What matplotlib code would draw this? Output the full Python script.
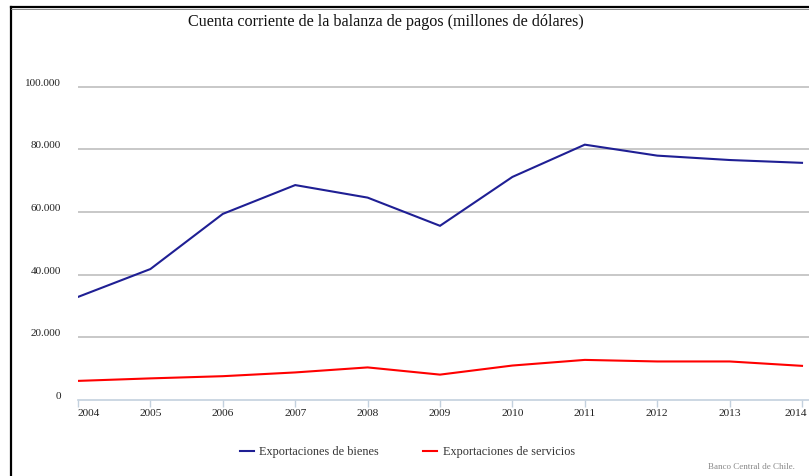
import matplotlib
matplotlib.use("Agg")
import matplotlib.pyplot as plt
import matplotlib.transforms as mtrans
from matplotlib.lines import Line2D

years = [2004, 2005, 2006, 2007, 2008, 2009, 2010, 2011, 2012, 2013, 2014]
bienes = [32900, 41800, 59400, 68600, 64600, 55600, 71200, 81500, 78000, 76600, 75700]
servicios = [6100, 6900, 7600, 8800, 10400, 8100, 11000, 12800, 12300, 12300, 10900]
yticks = [0, 20000, 40000, 60000, 80000, 100000]
ytick_labels = ["0", "20.000", "40.000", "60.000", "80.000", "100.000"]
title = "Cuenta corriente de la balanza de pagos (millones de dólares)"
series_names = ["Exportaciones de bienes", "Exportaciones de servicios"]
credit = "Banco Central de Chile."

W, H = 809, 477
fig = plt.figure(figsize=(W / 100, H / 100), dpi=100)
serif = ["Liberation Serif", "DejaVu Serif"]

# axes geometry (pixels)
x0px, x1px = 78, 802
base_px, top100_px = 401, 87.7
ppy = (x1px - x0px) / 10.0
ppv = (base_px - top100_px) / 100000.0
xmax = 2014 + (W - x1px) / ppy
ymax = 105000
top_px = base_px - ymax * ppv
ax = fig.add_axes([x0px / W, (H - base_px) / H, (W - x0px) / W, (base_px - top_px) / H])
ax.set_xlim(2004, xmax)
ax.set_ylim(0, ymax)

ax.plot(years, bienes, color="#1f1f94", lw=1.5, solid_joinstyle="miter")
ax.plot(years, servicios, color="#ff0000", lw=1.5)

for s in ["top", "right", "left"]:
    ax.spines[s].set_visible(False)
ax.spines["bottom"].set_color("#c3d1de")
ax.spines["bottom"].set_linewidth(1.2)
ax.set_axisbelow(True)
for v in yticks[1:]:
    ax.axhline(v, color="#c4c4c4", lw=1.3, zorder=0)

ax.set_yticks(yticks)
ax.set_yticklabels(ytick_labels, fontfamily=serif, fontsize=8, color="#222222")
ax.tick_params(axis="y", length=0, pad=12.2)
for lab in ax.get_yticklabels():
    lab.set_va("bottom")

ax.set_xticks(years)
ax.set_xticklabels([str(y) for y in years], fontfamily=serif, fontsize=8.2, color="#222222")
ax.tick_params(axis="x", length=5, width=1, color="#c3d1de", pad=1)
xl = ax.get_xticklabels()
xl[0].set_ha("left")
xl[-1].set_ha("right")
xl[-1].set_transform(xl[-1].get_transform() + mtrans.ScaledTranslation(5 / 100, 0, fig.dpi_scale_trans))

fig.text(386 / W, 1 - 22 / H, title, ha="center", va="center", fontfamily=serif, fontsize=11.6, color="#111111")

# legend
ly = 1 - 452 / H
fig.add_artist(Line2D([240 / W, 254 / W], [ly, ly], color="#1f1f94", lw=1.5))
fig.text(259 / W, ly, series_names[0], ha="left", va="center", fontfamily=serif, fontsize=8.8, color="#333333")
fig.add_artist(Line2D([423 / W, 437 / W], [ly, ly], color="#ff0000", lw=1.5))
fig.text(443 / W, ly, series_names[1], ha="left", va="center", fontfamily=serif, fontsize=8.8, color="#333333")

fig.text(795 / W, 1 - 467 / H, credit, ha="right", va="center", fontfamily=serif, fontsize=6.5, color="#888888")

# frame lines (left and top)
fig.add_artist(Line2D([11 / W, 11 / W], [0, 1 - 8 / H], color="#000000", lw=1.6))
fig.add_artist(Line2D([11 / W, 1], [1 - 8 / H, 1 - 8 / H], color="#000000", lw=1.6))
fig.add_artist(Line2D([11 / W, 1], [1 - 10 / H, 1 - 10 / H], color="#777777", lw=0.6))

fig.savefig("out.png", dpi=100)
